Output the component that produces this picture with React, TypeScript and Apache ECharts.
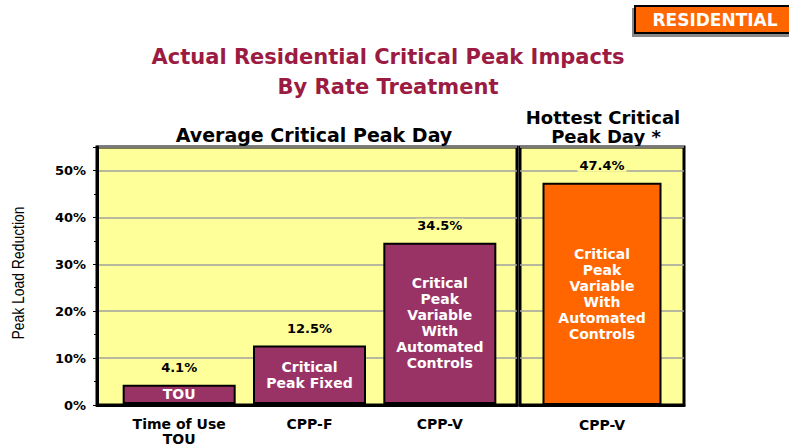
import React, { useEffect, useRef } from "react";
import * as echarts from "echarts";

const avgCategories = ["Time of Use\nTOU", "CPP-F", "CPP-V"];
const avgValues = [4.1, 12.5, 34.5];
const avgInnerLabels = ["TOU", "Critical\nPeak Fixed", "Critical\nPeak\nVariable\nWith\nAutomated\nControls"];
const hotCategories = ["CPP-V"];
const hotValues = [47.4];
const hotInnerLabels = ["Critical\nPeak\nVariable\nWith\nAutomated\nControls"];
const yTicks = [0, 10, 20, 30, 40, 50];

const FONT = "DejaVu Sans";
const YELLOW = "#FFFF99";

export default function App() {
  const ref = useRef<HTMLDivElement>(null);
  useEffect(() => {
    if (!ref.current) return;
    const chart = echarts.init(ref.current, undefined, { renderer: "svg" });
    const yBase = {
      type: "value",
      min: 0,
      max: 55,
      interval: 10,
      splitLine: { show: true, lineStyle: { color: "#A0A0A0", width: 1.5 } },
    };
    const gridBox = {
      top: 147,
      height: 258,
      show: true,
      backgroundColor: YELLOW,
      borderColor: "#000",
      borderWidth: 3,
    };
    const xLabel = {
      color: "#000",
      fontFamily: FONT,
      fontWeight: "bold",
      fontSize: 14,
      lineHeight: 15,
      margin: 12,
    };
    const innerLabel = (arr: string[]) => ({
      show: true,
      position: "inside",
      color: "#fff",
      fontFamily: FONT,
      fontWeight: "bold",
      fontSize: 14,
      lineHeight: 16,
      formatter: (p: any) => arr[p.dataIndex],
    });
    const topLabel = {
      show: true,
      position: "top",
      distance: 11,
      color: "#000",
      fontFamily: FONT,
      fontWeight: "bold",
      fontSize: 13,
      backgroundColor: YELLOW,
      padding: [0, 2],
      formatter: (p: any) => `${p.value}%`,
    };
    chart.setOption({
      animation: false,
      grid: [
        { ...gridBox, left: 97, width: 420 },
        { left: 114, top: 147, width: 391, height: 258, show: false },
        { ...gridBox, left: 520, width: 164 },
      ],
      xAxis: [
        {
          gridIndex: 0,
          type: "category",
          data: [""],
          axisLine: { show: true, lineStyle: { color: "#000", width: 3 } },
          axisTick: { show: false },
          axisLabel: { show: false },
        },
        {
          gridIndex: 1,
          type: "category",
          data: avgCategories,
          axisLine: { show: false },
          axisTick: { show: false },
          axisLabel: xLabel,
        },
        {
          gridIndex: 2,
          type: "category",
          data: hotCategories,
          axisLine: { show: true, lineStyle: { color: "#000", width: 3 } },
          axisTick: { show: false },
          axisLabel: xLabel,
        },
      ],
      yAxis: [
        {
          ...yBase,
          gridIndex: 0,
          axisLine: { show: true, lineStyle: { color: "#000", width: 3 } },
          axisTick: { show: true, length: 4, lineStyle: { color: "#000", width: 1 } },
          minorTick: { show: true, splitNumber: 2, length: 3, lineStyle: { color: "#000", width: 1 } },
          axisLabel: {
            color: "#000",
            fontFamily: FONT,
            fontWeight: "bold",
            fontSize: 13,
            margin: 11,
            formatter: (v: number) => (yTicks.includes(v) ? `${v}%` : ""),
          },
        },
        {
          ...yBase,
          gridIndex: 1,
          show: false,
          splitLine: { show: false },
        },
        {
          ...yBase,
          gridIndex: 2,
          axisLine: { show: false },
          axisTick: { show: false },
          axisLabel: { show: false },
        },
      ],
      series: [
        {
          type: "bar",
          xAxisIndex: 1,
          yAxisIndex: 1,
          data: avgValues,
          barWidth: 113,
          itemStyle: { color: "#993366", borderColor: "#000", borderWidth: 2 },
          label: innerLabel(avgInnerLabels),
        },
        {
          type: "bar",
          xAxisIndex: 1,
          yAxisIndex: 1,
          data: avgValues,
          barWidth: 113,
          barGap: "-100%",
          itemStyle: { color: "rgba(0,0,0,0)" },
          label: topLabel,
          silent: true,
        },
        {
          type: "bar",
          xAxisIndex: 2,
          yAxisIndex: 2,
          data: hotValues,
          barWidth: 119,
          itemStyle: { color: "#FF6600", borderColor: "#000", borderWidth: 2 },
          label: innerLabel(hotInnerLabels),
        },
        {
          type: "bar",
          xAxisIndex: 2,
          yAxisIndex: 2,
          data: hotValues,
          barWidth: 119,
          barGap: "-100%",
          itemStyle: { color: "rgba(0,0,0,0)" },
          label: topLabel,
          silent: true,
        },
      ],
      graphic: [
        {
          type: "text",
          x: 18,
          y: 273,
          rotation: Math.PI / 2,
          scaleX: 0.87,
          style: {
            text: "Peak Load Reduction",
            fill: "#000",
            font: `16px "Liberation Sans", Arial, sans-serif`,
            textAlign: "center",
            textVerticalAlign: "middle",
          },
        },
        {
          type: "rect",
          shape: { x: 635, y: 6, width: 170, height: 27 },
          style: {
            fill: "#FF6600",
            stroke: "#000",
            lineWidth: 2,
            shadowColor: "#888",
            shadowOffsetX: -2,
            shadowOffsetY: 3,
            shadowBlur: 0,
          },
        },
        {
          type: "text",
          x: 715,
          y: 20,
          style: {
            text: "RESIDENTIAL",
            fill: "#fff",
            font: `bold 17px "${FONT}"`,
            textAlign: "center",
            textVerticalAlign: "middle",
          },
        },
        {
          type: "text",
          x: 388,
          y: 57,
          style: {
            text: "Actual Residential Critical Peak Impacts",
            fill: "#9B1B42",
            font: `bold 21px "${FONT}"`,
            textAlign: "center",
            textVerticalAlign: "middle",
          },
        },
        {
          type: "text",
          x: 388,
          y: 87,
          style: {
            text: "By Rate Treatment",
            fill: "#9B1B42",
            font: `bold 21px "${FONT}"`,
            textAlign: "center",
            textVerticalAlign: "middle",
          },
        },
        {
          type: "text",
          x: 314,
          y: 135,
          style: {
            text: "Average Critical Peak Day",
            fill: "#000",
            font: `bold 19px "${FONT}"`,
            textAlign: "center",
            textVerticalAlign: "middle",
          },
        },
        {
          type: "text",
          x: 603,
          y: 117,
          style: {
            text: "Hottest Critical",
            fill: "#000",
            font: `bold 18px "${FONT}"`,
            textAlign: "center",
            textVerticalAlign: "middle",
          },
        },
        {
          type: "text",
          x: 606,
          y: 136,
          style: {
            text: "Peak Day *",
            fill: "#000",
            font: `bold 18px "${FONT}"`,
            textAlign: "center",
            textVerticalAlign: "middle",
          },
        },
      ],
    });
    return () => chart.dispose();
  }, []);
  return (
    <div
      ref={ref}
      style={{ position: "fixed", left: 0, top: 0, width: 789, height: 446, background: "#fff" }}
    />
  );
}
